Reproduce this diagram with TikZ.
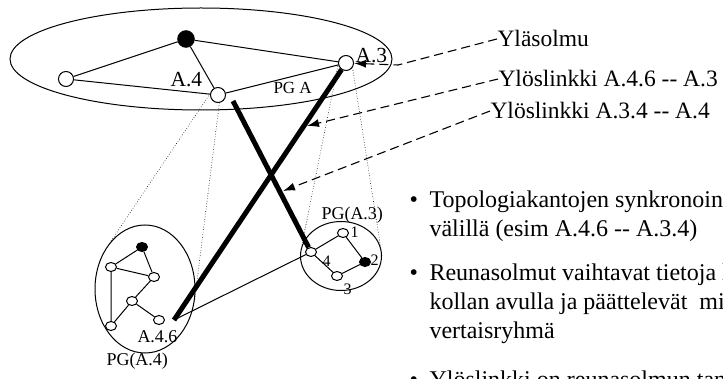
\documentclass[tikz,border=0pt]{standalone}
\usepackage{fontspec}
\setmainfont{Liberation Serif}
\usetikzlibrary{shapes.geometric,arrows.meta}
\tikzstyle{group}=[ellipse, draw, inner sep=0pt]
\tikzstyle{topnode}=[circle, draw, fill=white, minimum size=15pt, inner sep=0pt]
\tikzstyle{topblack}=[topnode, fill=black, minimum size=16.5pt]
\tikzstyle{subnode}=[ellipse, draw, fill=white, minimum width=11pt, minimum height=9pt, inner sep=0pt]
\tikzstyle{subblack}=[subnode, fill=black]
\tikzstyle{uplink}=[line width=5pt]
\tikzstyle{proj}=[dotted, line width=0.6pt]
\tikzstyle{pointer}=[dash pattern=on 9pt off 5pt, line width=1.1pt, -{Latex[length=12pt,width=8pt]}]
\tikzstyle{note}=[anchor=base west, inner sep=0pt, font=\fontsize{23.5}{29}\selectfont]
\tikzstyle{bullet}=[note, font=\fontsize{24}{29}\selectfont]
\tikzstyle{toplbl}=[anchor=base west, inner sep=0pt, font=\fontsize{21.5}{22}\selectfont]
\tikzstyle{grouplbl}=[anchor=base west, inner sep=0pt, font=\fontsize{18}{18}\selectfont]
\tikzstyle{digit}=[anchor=base west, inner sep=0pt, font=\fontsize{16}{16}\selectfont]

\begin{document}
\begin{tikzpicture}[x=1pt, y=-1pt, line width=1pt]
            \useasboundingbox (0,0) rectangle (723,379);
            \clip (0,0) rectangle (723,379);

            \node[group, minimum width=382pt, minimum height=102pt] (pga) at (201,59) {};
            \node[group, minimum width=100pt, minimum height=128pt] (pga4) at (145,289) {};
            \node[group, minimum width=81pt, minimum height=69pt] (pga3) at (341,256) {};

            \node[topnode] (l) at (66,79) {};
            \node[topblack] (b) at (186,39) {};
            \node[topnode] (a4) at (218,95) {};
            \node[topnode] (a3) at (346,63) {};
            \draw (l) -- (b) -- (a3);
            \draw (b) -- (a4) -- (l);
            \draw (a4) -- (a3);
            \node[toplbl] (a4lbl) at (170,87) {A.4};
            \node[toplbl] (a3lbl) at (355,63) {A.3};
            \node[anchor=base west, inner sep=0pt, font=\fontsize{17}{17}\selectfont] (pgalbl) at (273,94) {PG A};

            \node[subblack] (c0) at (142,247) {};
            \node[subnode] (c1) at (111,267) {};
            \node[subnode] (c2) at (154,277) {};
            \node[subnode] (c3) at (132,301) {};
            \node[subnode] (c4) at (111,326) {};
            \node[subnode] (c6) at (159,320) {};
            \draw (c1) -- (c0) -- (c2) -- (c1) -- (c4) -- (c3) -- (c2);
            \draw (c3) -- (c6);
            \node[grouplbl] (c6lbl) at (137,342) {A.4.6};
            \node[grouplbl] (pga4lbl) at (106,366) {PG(A.4)};

            \node[subnode] (d1) at (343,233) {};
            \node[subblack] (d2) at (365,262) {};
            \node[subnode] (d3) at (337,276) {};
            \node[subnode] (d4) at (311,252) {};
            \draw (d4) -- (d1) -- (d2) -- (d3) -- (d4);
            \node[digit] (d1lbl) at (350,238) {1};
            \node[digit] (d2lbl) at (370,266) {2};
            \node[digit] (d3lbl) at (343,295) {3};
            \node[digit] (d4lbl) at (322,267) {4};
            \node[grouplbl] (pga3lbl) at (321,220) {PG(A.3)};

            \draw[proj] (a4.170) -- (pga4.127);
            \draw[proj] (a4.-80) -- (pga4.-17);
            \draw[proj] (a3.146) -- (pga3.166);
            \draw[proj] (a3.-35) -- (pga3.0);

            \coordinate (j46) at (174,320);
            \coordinate (upa4) at (233,101);
            \draw (j46) -- (d4);
            \draw[uplink] (j46) -- (a3);
            \draw[uplink] (upa4) -- (d4);

            \node[note] (yla) at (497,47) {Yläsolmu};
            \node[note] (up1) at (498,87) {Ylöslinkki A.4.6 -{}- A.3};
            \node[note] (up2) at (490,119) {Ylöslinkki A.3.4 -{}- A.4};
            \coordinate (bend) at (398,65);
            \coordinate (tip1) at (307,126);
            \coordinate (tip2) at (283,191);
            \draw[pointer] (yla.west) -- (bend) -- (a3);
            \draw[pointer] (up1.west) -- (tip1);
            \draw[pointer] (up2.west) -- (tip2);

            \node[bullet] (bul1) at (409,208) {•};
            \node[bullet] (t1a) at (429,208) {Topologiakantojen synkronoin};
            \node[bullet] (t1b) at (429,237) {välillä (esim A.4.6 -{}- A.3.4)};
            \node[bullet] (bul2) at (409,281) {•};
            \node[bullet] (t2a) at (429,281) {Reunasolmut vaihtavat tietoja l};
            \node[bullet] (t2b) at (429,310) {kollan avulla ja päättelevät~ mi};
            \node[bullet] (t2c) at (429,339) {vertaisryhmä};
            \node[bullet] (bul3) at (409,388) {•};
            \node[bullet] (t3a) at (429,388) {Ylöslinkki on reunasolmun tan};
        \end{tikzpicture}
\end{document}
